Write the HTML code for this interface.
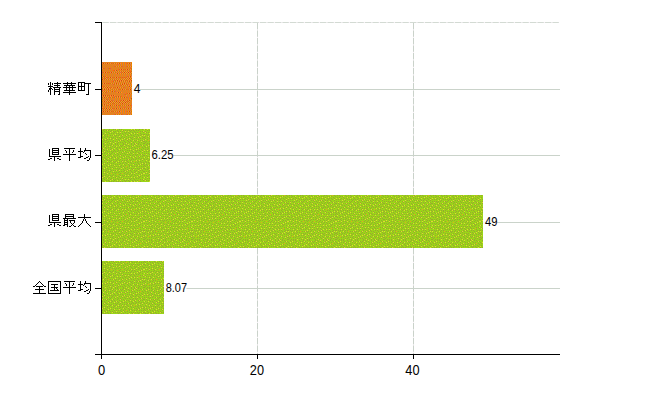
<!DOCTYPE html>
<html><head><meta charset="utf-8"><title>chart</title>
<style>html,body{margin:0;padding:0;background:#fff;width:650px;height:400px;overflow:hidden;font-family:"Liberation Sans",sans-serif}</style>
</head><body>
<svg width="650" height="400" viewBox="0 0 650 400" style="display:block;position:absolute;left:0;top:0">
<rect width="650" height="400" fill="#fff"/>
<g shape-rendering="crispEdges" stroke="#cad2ca" stroke-width="1" fill="none">
<path d="M103 22.5H559M257.5 23V354M413.5 23V354" stroke="#f7f0f7"/>
<path d="M102.5 22.5H560" stroke="#d3dad3" stroke-dasharray="6.3 1.2" shape-rendering="auto"/>
<path d="M257.5 23V354" stroke-dasharray="6.3 1.2" shape-rendering="auto"/>
<path d="M413.5 23V354" stroke-dasharray="6.3 1.2" shape-rendering="auto"/>
<path d="M102 89.5H560" stroke="#cad3ca"/>
<path d="M102 155.5H560" stroke="#cad3ca"/>
<path d="M102 222.5H560" stroke="#cad3ca"/>
<path d="M102 288.5H560" stroke="#cad3ca"/>
</g>
<defs><pattern id="pg" patternUnits="userSpaceOnUse" width="48" height="48"><rect width="48" height="48" fill="#9bd616"/><path fill="#99a532" d="M0 2h1v1h-1zM0 7h1v1h-1zM0 9h1v1h-1zM0 11h1v1h-1zM0 15h1v1h-1zM0 19h1v1h-1zM0 21h1v1h-1zM0 24h1v1h-1zM0 27h1v1h-1zM0 31h1v1h-1zM0 38h1v1h-1zM0 41h1v1h-1zM0 43h1v1h-1zM0 45h1v1h-1zM0 47h1v1h-1zM1 3h1v1h-1zM1 5h1v1h-1zM1 13h1v1h-1zM1 17h1v1h-1zM1 22h1v1h-1zM1 25h1v1h-1zM1 29h1v1h-1zM1 33h1v1h-1zM1 35h1v1h-1zM1 40h1v1h-1zM1 42h1v1h-1zM1 46h1v1h-1zM2 0h1v1h-1zM2 7h1v1h-1zM2 9h1v1h-1zM2 11h1v1h-1zM2 15h1v1h-1zM2 18h1v1h-1zM2 20h1v1h-1zM2 27h1v1h-1zM2 31h1v1h-1zM2 36h1v1h-1zM2 38h1v1h-1zM2 45h1v1h-1zM3 1h1v1h-1zM3 3h1v1h-1zM3 5h1v1h-1zM3 12h1v1h-1zM3 14h1v1h-1zM3 21h1v1h-1zM3 23h1v1h-1zM3 25h1v1h-1zM3 29h1v1h-1zM3 32h1v1h-1zM3 34h1v1h-1zM3 39h1v1h-1zM3 41h1v1h-1zM3 43h1v1h-1zM3 47h1v1h-1zM4 4h1v1h-1zM4 7h1v1h-1zM4 9h1v1h-1zM4 16h1v1h-1zM4 18h1v1h-1zM4 24h1v1h-1zM4 27h1v1h-1zM4 31h1v1h-1zM4 36h1v1h-1zM4 38h1v1h-1zM5 0h1v1h-1zM5 2h1v1h-1zM5 6h1v1h-1zM5 10h1v1h-1zM5 12h1v1h-1zM5 15h1v1h-1zM5 19h1v1h-1zM5 21h1v1h-1zM5 26h1v1h-1zM5 28h1v1h-1zM5 30h1v1h-1zM5 34h1v1h-1zM5 40h1v1h-1zM5 42h1v1h-1zM5 45h1v1h-1zM5 47h1v1h-1zM6 4h1v1h-1zM6 9h1v1h-1zM6 13h1v1h-1zM6 17h1v1h-1zM6 22h1v1h-1zM6 24h1v1h-1zM6 32h1v1h-1zM6 36h1v1h-1zM6 38h1v1h-1zM6 41h1v1h-1zM7 0h1v1h-1zM7 2h1v1h-1zM7 5h1v1h-1zM7 7h1v1h-1zM7 11h1v1h-1zM7 15h1v1h-1zM7 18h1v1h-1zM7 20h1v1h-1zM7 25h1v1h-1zM7 27h1v1h-1zM7 29h1v1h-1zM7 31h1v1h-1zM7 34h1v1h-1zM7 37h1v1h-1zM7 43h1v1h-1zM7 45h1v1h-1zM7 47h1v1h-1zM8 1h1v1h-1zM8 6h1v1h-1zM8 9h1v1h-1zM8 13h1v1h-1zM8 16h1v1h-1zM8 22h1v1h-1zM8 33h1v1h-1zM8 35h1v1h-1zM8 39h1v1h-1zM8 41h1v1h-1zM8 44h1v1h-1zM9 3h1v1h-1zM9 8h1v1h-1zM9 11h1v1h-1zM9 14h1v1h-1zM9 18h1v1h-1zM9 20h1v1h-1zM9 23h1v1h-1zM9 25h1v1h-1zM9 27h1v1h-1zM9 29h1v1h-1zM9 31h1v1h-1zM9 38h1v1h-1zM9 40h1v1h-1zM9 46h1v1h-1zM10 2h1v1h-1zM10 4h1v1h-1zM10 6h1v1h-1zM10 12h1v1h-1zM10 15h1v1h-1zM10 21h1v1h-1zM10 26h1v1h-1zM10 30h1v1h-1zM10 34h1v1h-1zM10 36h1v1h-1zM10 42h1v1h-1zM10 44h1v1h-1zM11 0h1v1h-1zM11 7h1v1h-1zM11 9h1v1h-1zM11 11h1v1h-1zM11 16h1v1h-1zM11 18h1v1h-1zM11 19h1v1h-1zM11 22h1v1h-1zM11 24h1v1h-1zM11 28h1v1h-1zM11 32h1v1h-1zM11 38h1v1h-1zM11 40h1v1h-1zM11 43h1v1h-1zM11 46h1v1h-1zM12 1h1v1h-1zM12 3h1v1h-1zM12 5h1v1h-1zM12 13h1v1h-1zM12 25h1v1h-1zM12 27h1v1h-1zM12 31h1v1h-1zM12 34h1v1h-1zM12 36h1v1h-1zM12 45h1v1h-1zM13 7h1v1h-1zM13 9h1v1h-1zM13 11h1v1h-1zM13 14h1v1h-1zM13 16h1v1h-1zM13 18h1v1h-1zM13 20h1v1h-1zM13 22h1v1h-1zM13 29h1v1h-1zM13 33h1v1h-1zM13 37h1v1h-1zM13 41h1v1h-1zM13 43h1v1h-1zM13 47h1v1h-1zM14 1h1v1h-1zM14 3h1v1h-1zM14 5h1v1h-1zM14 10h1v1h-1zM14 17h1v1h-1zM14 23h1v1h-1zM14 25h1v1h-1zM14 27h1v1h-1zM14 31h1v1h-1zM14 35h1v1h-1zM14 39h1v1h-1zM14 45h1v1h-1zM15 0h1v1h-1zM15 4h1v1h-1zM15 7h1v1h-1zM15 9h1v1h-1zM15 12h1v1h-1zM15 14h1v1h-1zM15 16h1v1h-1zM15 19h1v1h-1zM15 21h1v1h-1zM15 26h1v1h-1zM15 32h1v1h-1zM15 34h1v1h-1zM15 37h1v1h-1zM15 41h1v1h-1zM15 43h1v1h-1zM15 47h1v1h-1zM16 2h1v1h-1zM16 8h1v1h-1zM16 13h1v1h-1zM16 23h1v1h-1zM16 28h1v1h-1zM16 31h1v1h-1zM16 39h1v1h-1zM16 42h1v1h-1zM16 45h1v1h-1zM17 1h1v1h-1zM17 5h1v1h-1zM17 7h1v1h-1zM17 11h1v1h-1zM17 15h1v1h-1zM17 17h1v1h-1zM17 19h1v1h-1zM17 21h1v1h-1zM17 24h1v1h-1zM17 26h1v1h-1zM17 30h1v1h-1zM17 33h1v1h-1zM17 35h1v1h-1zM17 37h1v1h-1zM17 41h1v1h-1zM17 44h1v1h-1zM17 46h1v1h-1zM18 3h1v1h-1zM18 6h1v1h-1zM18 9h1v1h-1zM18 12h1v1h-1zM18 18h1v1h-1zM18 22h1v1h-1zM18 28h1v1h-1zM18 36h1v1h-1zM18 39h1v1h-1zM19 0h1v1h-1zM19 2h1v1h-1zM19 7h1v1h-1zM19 10h1v1h-1zM19 13h1v1h-1zM19 15h1v1h-1zM19 17h1v1h-1zM19 20h1v1h-1zM19 24h1v1h-1zM19 26h1v1h-1zM19 29h1v1h-1zM19 31h1v1h-1zM19 33h1v1h-1zM19 35h1v1h-1zM19 40h1v1h-1zM19 42h1v1h-1zM19 45h1v1h-1zM19 47h1v1h-1zM20 4h1v1h-1zM20 16h1v1h-1zM20 22h1v1h-1zM20 28h1v1h-1zM20 32h1v1h-1zM20 37h1v1h-1zM20 39h1v1h-1zM20 43h1v1h-1zM21 0h1v1h-1zM21 3h1v1h-1zM21 5h1v1h-1zM21 7h1v1h-1zM21 9h1v1h-1zM21 11h1v1h-1zM21 13h1v1h-1zM21 15h1v1h-1zM21 18h1v1h-1zM21 20h1v1h-1zM21 24h1v1h-1zM21 26h1v1h-1zM21 34h1v1h-1zM21 41h1v1h-1zM21 45h1v1h-1zM21 47h1v1h-1zM22 1h1v1h-1zM22 6h1v1h-1zM22 10h1v1h-1zM22 14h1v1h-1zM22 22h1v1h-1zM22 25h1v1h-1zM22 28h1v1h-1zM22 32h1v1h-1zM22 35h1v1h-1zM22 37h1v1h-1zM22 39h1v1h-1zM22 43h1v1h-1zM22 46h1v1h-1zM23 3h1v1h-1zM23 8h1v1h-1zM23 12h1v1h-1zM23 16h1v1h-1zM23 18h1v1h-1zM23 20h1v1h-1zM23 24h1v1h-1zM23 27h1v1h-1zM23 30h1v1h-1zM23 33h1v1h-1zM23 38h1v1h-1zM23 41h1v1h-1zM23 44h1v1h-1zM24 1h1v1h-1zM24 4h1v1h-1zM24 6h1v1h-1zM24 10h1v1h-1zM24 15h1v1h-1zM24 19h1v1h-1zM24 22h1v1h-1zM24 29h1v1h-1zM24 31h1v1h-1zM24 35h1v1h-1zM24 37h1v1h-1zM24 42h1v1h-1zM24 46h1v1h-1zM25 2h1v1h-1zM25 8h1v1h-1zM25 11h1v1h-1zM25 13h1v1h-1zM25 17h1v1h-1zM25 21h1v1h-1zM25 23h1v1h-1zM25 25h1v1h-1zM25 27h1v1h-1zM25 33h1v1h-1zM25 39h1v1h-1zM25 41h1v1h-1zM25 44h1v1h-1zM26 1h1v1h-1zM26 4h1v1h-1zM26 6h1v1h-1zM26 9h1v1h-1zM26 14h1v1h-1zM26 16h1v1h-1zM26 19h1v1h-1zM26 31h1v1h-1zM26 35h1v1h-1zM26 37h1v1h-1zM26 40h1v1h-1zM26 46h1v1h-1zM27 0h1v1h-1zM27 7h1v1h-1zM27 11h1v1h-1zM27 18h1v1h-1zM27 22h1v1h-1zM27 25h1v1h-1zM27 27h1v1h-1zM27 32h1v1h-1zM27 34h1v1h-1zM27 38h1v1h-1zM27 42h1v1h-1zM27 44h1v1h-1zM27 47h1v1h-1zM28 2h1v1h-1zM28 4h1v1h-1zM28 9h1v1h-1zM28 12h1v1h-1zM28 14h1v1h-1zM28 16h1v1h-1zM28 20h1v1h-1zM28 23h1v1h-1zM28 26h1v1h-1zM28 29h1v1h-1zM28 31h1v1h-1zM28 36h1v1h-1zM28 41h1v1h-1zM28 45h1v1h-1zM29 0h1v1h-1zM29 5h1v1h-1zM29 7h1v1h-1zM29 10h1v1h-1zM29 18h1v1h-1zM29 21h1v1h-1zM29 24h1v1h-1zM29 28h1v1h-1zM29 34h1v1h-1zM29 37h1v1h-1zM29 39h1v1h-1zM29 43h1v1h-1zM29 46h1v1h-1zM30 1h1v1h-1zM30 3h1v1h-1zM30 8h1v1h-1zM30 12h1v1h-1zM30 14h1v1h-1zM30 16h1v1h-1zM30 19h1v1h-1zM30 27h1v1h-1zM30 30h1v1h-1zM30 32h1v1h-1zM30 36h1v1h-1zM30 40h1v1h-1zM30 42h1v1h-1zM31 4h1v1h-1zM31 6h1v1h-1zM31 10h1v1h-1zM31 15h1v1h-1zM31 17h1v1h-1zM31 23h1v1h-1zM31 25h1v1h-1zM31 29h1v1h-1zM31 34h1v1h-1zM31 38h1v1h-1zM31 44h1v1h-1zM31 47h1v1h-1zM32 1h1v1h-1zM32 8h1v1h-1zM32 12h1v1h-1zM32 18h1v1h-1zM32 20h1v1h-1zM32 26h1v1h-1zM32 28h1v1h-1zM32 32h1v1h-1zM32 36h1v1h-1zM32 39h1v1h-1zM32 41h1v1h-1zM32 43h1v1h-1zM32 45h1v1h-1zM33 2h1v1h-1zM33 4h1v1h-1zM33 6h1v1h-1zM33 10h1v1h-1zM33 13h1v1h-1zM33 15h1v1h-1zM33 21h1v1h-1zM33 22h1v1h-1zM33 24h1v1h-1zM33 30h1v1h-1zM33 34h1v1h-1zM33 37h1v1h-1zM33 46h1v1h-1zM34 8h1v1h-1zM34 11h1v1h-1zM34 16h1v1h-1zM34 18h1v1h-1zM34 26h1v1h-1zM34 29h1v1h-1zM34 32h1v1h-1zM34 35h1v1h-1zM34 38h1v1h-1zM34 41h1v1h-1zM34 44h1v1h-1zM35 0h1v1h-1zM35 2h1v1h-1zM35 4h1v1h-1zM35 6h1v1h-1zM35 9h1v1h-1zM35 13h1v1h-1zM35 15h1v1h-1zM35 19h1v1h-1zM35 21h1v1h-1zM35 24h1v1h-1zM35 27h1v1h-1zM35 31h1v1h-1zM35 34h1v1h-1zM35 39h1v1h-1zM35 42h1v1h-1zM35 45h1v1h-1zM35 47h1v1h-1zM36 3h1v1h-1zM36 7h1v1h-1zM36 11h1v1h-1zM36 14h1v1h-1zM36 17h1v1h-1zM36 22h1v1h-1zM36 25h1v1h-1zM36 28h1v1h-1zM36 30h1v1h-1zM36 36h1v1h-1zM36 41h1v1h-1zM36 43h1v1h-1zM37 1h1v1h-1zM37 5h1v1h-1zM37 8h1v1h-1zM37 10h1v1h-1zM37 15h1v1h-1zM37 19h1v1h-1zM37 24h1v1h-1zM37 32h1v1h-1zM37 34h1v1h-1zM37 37h1v1h-1zM37 39h1v1h-1zM37 46h1v1h-1zM38 0h1v1h-1zM38 3h1v1h-1zM38 12h1v1h-1zM38 20h1v1h-1zM38 22h1v1h-1zM38 26h1v1h-1zM38 28h1v1h-1zM38 30h1v1h-1zM38 35h1v1h-1zM38 40h1v1h-1zM38 42h1v1h-1zM38 44h1v1h-1zM38 47h1v1h-1zM39 4h1v1h-1zM39 6h1v1h-1zM39 8h1v1h-1zM39 10h1v1h-1zM39 13h1v1h-1zM39 15h1v1h-1zM39 18h1v1h-1zM39 24h1v1h-1zM39 27h1v1h-1zM39 31h1v1h-1zM39 33h1v1h-1zM39 36h1v1h-1zM39 38h1v1h-1zM39 45h1v1h-1zM40 1h1v1h-1zM40 7h1v1h-1zM40 11h1v1h-1zM40 14h1v1h-1zM40 20h1v1h-1zM40 22h1v1h-1zM40 26h1v1h-1zM40 29h1v1h-1zM40 34h1v1h-1zM40 40h1v1h-1zM40 42h1v1h-1zM40 44h1v1h-1zM40 47h1v1h-1zM41 2h1v1h-1zM41 4h1v1h-1zM41 6h1v1h-1zM41 10h1v1h-1zM41 16h1v1h-1zM41 18h1v1h-1zM41 21h1v1h-1zM41 24h1v1h-1zM41 31h1v1h-1zM41 36h1v1h-1zM41 38h1v1h-1zM41 41h1v1h-1zM42 0h1v1h-1zM42 8h1v1h-1zM42 12h1v1h-1zM42 14h1v1h-1zM42 17h1v1h-1zM42 19h1v1h-1zM42 25h1v1h-1zM42 27h1v1h-1zM42 29h1v1h-1zM42 32h1v1h-1zM42 34h1v1h-1zM42 39h1v1h-1zM42 43h1v1h-1zM42 45h1v1h-1zM42 47h1v1h-1zM43 2h1v1h-1zM43 4h1v1h-1zM43 6h1v1h-1zM43 9h1v1h-1zM43 13h1v1h-1zM43 20h1v1h-1zM43 22h1v1h-1zM43 24h1v1h-1zM43 28h1v1h-1zM43 33h1v1h-1zM43 41h1v1h-1zM43 46h1v1h-1zM44 0h1v1h-1zM44 7h1v1h-1zM44 10h1v1h-1zM44 12h1v1h-1zM44 15h1v1h-1zM44 17h1v1h-1zM44 26h1v1h-1zM44 30h1v1h-1zM44 32h1v1h-1zM44 35h1v1h-1zM44 37h1v1h-1zM44 39h1v1h-1zM44 42h1v1h-1zM44 44h1v1h-1zM45 1h1v1h-1zM45 5h1v1h-1zM45 14h1v1h-1zM45 18h1v1h-1zM45 20h1v1h-1zM45 22h1v1h-1zM45 24h1v1h-1zM45 28h1v1h-1zM45 38h1v1h-1zM45 46h1v1h-1zM46 3h1v1h-1zM46 6h1v1h-1zM46 8h1v1h-1zM46 10h1v1h-1zM46 12h1v1h-1zM46 16h1v1h-1zM46 26h1v1h-1zM46 29h1v1h-1zM46 31h1v1h-1zM46 33h1v1h-1zM46 35h1v1h-1zM46 40h1v1h-1zM46 42h1v1h-1zM46 44h1v1h-1zM47 1h1v1h-1zM47 4h1v1h-1zM47 11h1v1h-1zM47 14h1v1h-1zM47 18h1v1h-1zM47 20h1v1h-1zM47 22h1v1h-1zM47 24h1v1h-1zM47 27h1v1h-1zM47 36h1v1h-1zM47 38h1v1h-1zM47 41h1v1h-1zM47 45h1v1h-1zM47 47h1v1h-1z"/><path fill="#dddd33" d="M0 6h1v1h-1zM0 13h1v1h-1zM0 29h1v1h-1zM0 33h1v1h-1zM0 39h1v1h-1zM1 19h1v1h-1zM1 23h1v1h-1zM1 36h1v1h-1zM1 43h1v1h-1zM2 2h1v1h-1zM2 10h1v1h-1zM2 16h1v1h-1zM2 28h1v1h-1zM3 6h1v1h-1zM3 33h1v1h-1zM4 1h1v1h-1zM4 13h1v1h-1zM4 21h1v1h-1zM4 40h1v1h-1zM5 17h1v1h-1zM5 25h1v1h-1zM5 29h1v1h-1zM5 37h1v1h-1zM6 8h1v1h-1zM6 11h1v1h-1zM6 20h1v1h-1zM6 33h1v1h-1zM6 43h1v1h-1zM7 4h1v1h-1zM7 39h1v1h-1zM8 7h1v1h-1zM8 15h1v1h-1zM8 19h1v1h-1zM8 24h1v1h-1zM8 28h1v1h-1zM8 32h1v1h-1zM9 2h1v1h-1zM9 37h1v1h-1zM9 43h1v1h-1zM9 47h1v1h-1zM10 11h1v1h-1zM10 23h1v1h-1zM11 5h1v1h-1zM11 17h1v1h-1zM11 29h1v1h-1zM11 34h1v1h-1zM11 42h1v1h-1zM12 9h1v1h-1zM12 14h1v1h-1zM12 21h1v1h-1zM13 2h1v1h-1zM13 26h1v1h-1zM13 32h1v1h-1zM14 6h1v1h-1zM14 13h1v1h-1zM14 20h1v1h-1zM14 36h1v1h-1zM14 42h1v1h-1zM14 46h1v1h-1zM16 1h1v1h-1zM16 5h1v1h-1zM16 11h1v1h-1zM16 17h1v1h-1zM16 24h1v1h-1zM16 35h1v1h-1zM17 27h1v1h-1zM17 32h1v1h-1zM17 39h1v1h-1zM17 43h1v1h-1zM17 47h1v1h-1zM18 4h1v1h-1zM18 14h1v1h-1zM18 21h1v1h-1zM19 9h1v1h-1zM19 38h1v1h-1zM19 46h1v1h-1zM20 2h1v1h-1zM20 13h1v1h-1zM20 18h1v1h-1zM20 23h1v1h-1zM20 26h1v1h-1zM20 33h1v1h-1zM20 42h1v1h-1zM21 8h1v1h-1zM21 36h1v1h-1zM22 17h1v1h-1zM22 45h1v1h-1zM23 1h1v1h-1zM23 5h1v1h-1zM23 21h1v1h-1zM23 26h1v1h-1zM23 40h1v1h-1zM24 11h1v1h-1zM24 14h1v1h-1zM24 32h1v1h-1zM24 36h1v1h-1zM24 44h1v1h-1zM25 4h1v1h-1zM25 24h1v1h-1zM26 8h1v1h-1zM26 17h1v1h-1zM26 34h1v1h-1zM26 39h1v1h-1zM26 43h1v1h-1zM27 13h1v1h-1zM27 20h1v1h-1zM27 23h1v1h-1zM28 1h1v1h-1zM28 7h1v1h-1zM28 42h1v1h-1zM29 4h1v1h-1zM29 12h1v1h-1zM29 17h1v1h-1zM29 27h1v1h-1zM29 31h1v1h-1zM29 35h1v1h-1zM30 39h1v1h-1zM30 47h1v1h-1zM31 3h1v1h-1zM31 9h1v1h-1zM31 26h1v1h-1zM31 43h1v1h-1zM32 0h1v1h-1zM32 15h1v1h-1zM32 19h1v1h-1zM32 31h1v1h-1zM32 35h1v1h-1zM33 8h1v1h-1zM33 25h1v1h-1zM33 38h1v1h-1zM33 42h1v1h-1zM34 5h1v1h-1zM34 12h1v1h-1zM34 22h1v1h-1zM35 17h1v1h-1zM35 29h1v1h-1zM35 33h1v1h-1zM35 37h1v1h-1zM35 46h1v1h-1zM36 2h1v1h-1zM37 6h1v1h-1zM37 9h1v1h-1zM37 13h1v1h-1zM37 20h1v1h-1zM37 25h1v1h-1zM37 44h1v1h-1zM38 1h1v1h-1zM38 29h1v1h-1zM38 33h1v1h-1zM38 37h1v1h-1zM38 41h1v1h-1zM39 12h1v1h-1zM39 23h1v1h-1zM39 47h1v1h-1zM40 0h1v1h-1zM40 5h1v1h-1zM40 16h1v1h-1zM40 28h1v1h-1zM41 9h1v1h-1zM41 32h1v1h-1zM41 37h1v1h-1zM41 44h1v1h-1zM42 4h1v1h-1zM42 21h1v1h-1zM42 26h1v1h-1zM42 41h1v1h-1zM43 12h1v1h-1zM43 16h1v1h-1zM43 31h1v1h-1zM44 20h1v1h-1zM44 25h1v1h-1zM44 40h1v1h-1zM45 10h1v1h-1zM45 30h1v1h-1zM45 45h1v1h-1zM46 1h1v1h-1zM46 7h1v1h-1zM46 15h1v1h-1zM46 19h1v1h-1zM46 24h1v1h-1zM46 39h1v1h-1zM47 29h1v1h-1zM47 35h1v1h-1zM47 44h1v1h-1z"/><path fill="#e89c28" d="M4 44h1v1h-1zM12 39h1v1h-1zM15 29h1v1h-1zM21 30h1v1h-1zM26 29h1v1h-1zM30 22h1v1h-1zM38 17h1v1h-1zM43 36h1v1h-1zM44 3h1v1h-1z"/></pattern><pattern id="po" patternUnits="userSpaceOnUse" width="48" height="48"><rect width="48" height="48" fill="#c88240"/><path fill="#ff8040" d="M0 0h1v1h-1zM0 7h1v1h-1zM0 13h1v1h-1zM0 15h1v1h-1zM0 17h1v1h-1zM0 21h1v1h-1zM0 24h1v1h-1zM0 28h1v1h-1zM0 39h1v1h-1zM0 47h1v1h-1zM1 6h1v1h-1zM1 8h1v1h-1zM1 10h1v1h-1zM1 12h1v1h-1zM1 16h1v1h-1zM1 18h1v1h-1zM1 29h1v1h-1zM1 38h1v1h-1zM1 40h1v1h-1zM1 41h1v1h-1zM2 0h1v1h-1zM2 11h1v1h-1zM2 13h1v1h-1zM2 15h1v1h-1zM2 21h1v1h-1zM2 24h1v1h-1zM2 42h1v1h-1zM2 44h1v1h-1zM3 1h1v1h-1zM3 5h1v1h-1zM3 9h1v1h-1zM3 12h1v1h-1zM3 29h1v1h-1zM3 35h1v1h-1zM3 40h1v1h-1zM3 41h1v1h-1zM4 13h1v1h-1zM4 21h1v1h-1zM4 24h1v1h-1zM4 28h1v1h-1zM4 39h1v1h-1zM4 42h1v1h-1zM4 44h1v1h-1zM5 1h1v1h-1zM5 5h1v1h-1zM5 9h1v1h-1zM5 12h1v1h-1zM5 29h1v1h-1zM5 31h1v1h-1zM5 35h1v1h-1zM5 40h1v1h-1zM5 41h1v1h-1zM5 43h1v1h-1zM6 0h1v1h-1zM6 11h1v1h-1zM6 13h1v1h-1zM6 15h1v1h-1zM6 20h1v1h-1zM6 28h1v1h-1zM6 39h1v1h-1zM6 44h1v1h-1zM6 47h1v1h-1zM7 1h1v1h-1zM7 3h1v1h-1zM7 5h1v1h-1zM7 8h1v1h-1zM7 9h1v1h-1zM7 29h1v1h-1zM7 31h1v1h-1zM7 35h1v1h-1zM7 40h1v1h-1zM7 41h1v1h-1zM7 43h1v1h-1zM8 0h1v1h-1zM8 13h1v1h-1zM8 15h1v1h-1zM8 24h1v1h-1zM8 39h1v1h-1zM8 44h1v1h-1zM8 47h1v1h-1zM9 1h1v1h-1zM9 3h1v1h-1zM9 5h1v1h-1zM9 8h1v1h-1zM9 9h1v1h-1zM9 12h1v1h-1zM9 29h1v1h-1zM9 31h1v1h-1zM9 35h1v1h-1zM9 38h1v1h-1zM9 40h1v1h-1zM9 41h1v1h-1zM9 43h1v1h-1zM10 0h1v1h-1zM10 4h1v1h-1zM10 13h1v1h-1zM10 15h1v1h-1zM10 24h1v1h-1zM10 28h1v1h-1zM10 30h1v1h-1zM10 39h1v1h-1zM10 47h1v1h-1zM11 1h1v1h-1zM11 5h1v1h-1zM11 8h1v1h-1zM11 12h1v1h-1zM11 31h1v1h-1zM11 38h1v1h-1zM11 40h1v1h-1zM11 41h1v1h-1zM11 43h1v1h-1zM12 0h1v1h-1zM12 4h1v1h-1zM12 13h1v1h-1zM12 15h1v1h-1zM12 39h1v1h-1zM13 5h1v1h-1zM13 7h1v1h-1zM13 9h1v1h-1zM13 12h1v1h-1zM13 29h1v1h-1zM13 31h1v1h-1zM13 38h1v1h-1zM13 40h1v1h-1zM13 41h1v1h-1zM13 43h1v1h-1zM14 0h1v1h-1zM14 4h1v1h-1zM14 6h1v1h-1zM14 13h1v1h-1zM14 15h1v1h-1zM14 24h1v1h-1zM14 47h1v1h-1zM15 1h1v1h-1zM15 5h1v1h-1zM15 7h1v1h-1zM15 9h1v1h-1zM15 12h1v1h-1zM15 29h1v1h-1zM15 31h1v1h-1zM15 35h1v1h-1zM15 40h1v1h-1zM15 42h1v1h-1zM16 6h1v1h-1zM16 13h1v1h-1zM16 24h1v1h-1zM16 39h1v1h-1zM16 47h1v1h-1zM17 5h1v1h-1zM17 9h1v1h-1zM17 31h1v1h-1zM17 35h1v1h-1zM17 41h1v1h-1zM17 43h1v1h-1zM18 6h1v1h-1zM18 15h1v1h-1zM18 24h1v1h-1zM18 33h1v1h-1zM18 47h1v1h-1zM19 1h1v1h-1zM19 5h1v1h-1zM19 7h1v1h-1zM19 9h1v1h-1zM19 12h1v1h-1zM19 22h1v1h-1zM19 29h1v1h-1zM19 31h1v1h-1zM19 35h1v1h-1zM19 36h1v1h-1zM19 41h1v1h-1zM20 6h1v1h-1zM20 15h1v1h-1zM20 18h1v1h-1zM20 23h1v1h-1zM20 25h1v1h-1zM20 32h1v1h-1zM20 33h1v1h-1zM20 39h1v1h-1zM21 0h1v1h-1zM21 1h1v1h-1zM21 5h1v1h-1zM21 7h1v1h-1zM21 9h1v1h-1zM21 12h1v1h-1zM21 29h1v1h-1zM21 31h1v1h-1zM21 35h1v1h-1zM21 36h1v1h-1zM21 41h1v1h-1zM21 44h1v1h-1zM22 6h1v1h-1zM22 15h1v1h-1zM22 18h1v1h-1zM22 23h1v1h-1zM22 25h1v1h-1zM22 32h1v1h-1zM22 33h1v1h-1zM22 39h1v1h-1zM23 0h1v1h-1zM23 1h1v1h-1zM23 5h1v1h-1zM23 7h1v1h-1zM23 12h1v1h-1zM23 31h1v1h-1zM23 35h1v1h-1zM23 36h1v1h-1zM23 44h1v1h-1zM24 6h1v1h-1zM24 15h1v1h-1zM24 18h1v1h-1zM24 21h1v1h-1zM24 23h1v1h-1zM24 25h1v1h-1zM24 32h1v1h-1zM24 33h1v1h-1zM24 39h1v1h-1zM25 1h1v1h-1zM25 5h1v1h-1zM25 7h1v1h-1zM25 9h1v1h-1zM25 12h1v1h-1zM25 31h1v1h-1zM25 35h1v1h-1zM25 36h1v1h-1zM25 41h1v1h-1zM25 44h1v1h-1zM26 4h1v1h-1zM26 6h1v1h-1zM26 21h1v1h-1zM26 23h1v1h-1zM26 25h1v1h-1zM26 32h1v1h-1zM26 33h1v1h-1zM26 37h1v1h-1zM26 39h1v1h-1zM27 1h1v1h-1zM27 5h1v1h-1zM27 7h1v1h-1zM27 9h1v1h-1zM27 12h1v1h-1zM27 24h1v1h-1zM27 31h1v1h-1zM27 35h1v1h-1zM27 36h1v1h-1zM27 41h1v1h-1zM28 4h1v1h-1zM28 6h1v1h-1zM28 23h1v1h-1zM28 25h1v1h-1zM28 30h1v1h-1zM28 32h1v1h-1zM28 33h1v1h-1zM28 37h1v1h-1zM29 1h1v1h-1zM29 5h1v1h-1zM29 7h1v1h-1zM29 9h1v1h-1zM29 12h1v1h-1zM29 24h1v1h-1zM29 31h1v1h-1zM29 35h1v1h-1zM29 36h1v1h-1zM29 41h1v1h-1zM30 4h1v1h-1zM30 6h1v1h-1zM30 21h1v1h-1zM30 23h1v1h-1zM30 25h1v1h-1zM30 30h1v1h-1zM30 33h1v1h-1zM30 37h1v1h-1zM30 47h1v1h-1zM31 7h1v1h-1zM31 9h1v1h-1zM31 12h1v1h-1zM31 24h1v1h-1zM31 29h1v1h-1zM31 31h1v1h-1zM31 35h1v1h-1zM32 4h1v1h-1zM32 6h1v1h-1zM32 15h1v1h-1zM32 18h1v1h-1zM32 21h1v1h-1zM32 23h1v1h-1zM32 25h1v1h-1zM32 30h1v1h-1zM32 32h1v1h-1zM32 33h1v1h-1zM32 37h1v1h-1zM32 45h1v1h-1zM33 5h1v1h-1zM33 7h1v1h-1zM33 9h1v1h-1zM33 12h1v1h-1zM33 24h1v1h-1zM33 28h1v1h-1zM33 29h1v1h-1zM33 31h1v1h-1zM33 35h1v1h-1zM33 39h1v1h-1zM33 41h1v1h-1zM34 3h1v1h-1zM34 15h1v1h-1zM34 18h1v1h-1zM34 21h1v1h-1zM34 25h1v1h-1zM34 30h1v1h-1zM34 32h1v1h-1zM34 33h1v1h-1zM34 38h1v1h-1zM34 45h1v1h-1zM35 12h1v1h-1zM35 24h1v1h-1zM35 28h1v1h-1zM35 29h1v1h-1zM35 31h1v1h-1zM35 35h1v1h-1zM35 39h1v1h-1zM35 41h1v1h-1zM36 2h1v1h-1zM36 3h1v1h-1zM36 18h1v1h-1zM36 20h1v1h-1zM36 21h1v1h-1zM36 23h1v1h-1zM36 25h1v1h-1zM36 30h1v1h-1zM36 32h1v1h-1zM36 33h1v1h-1zM36 45h1v1h-1zM37 24h1v1h-1zM37 31h1v1h-1zM37 35h1v1h-1zM37 40h1v1h-1zM37 41h1v1h-1zM38 1h1v1h-1zM38 20h1v1h-1zM38 21h1v1h-1zM38 23h1v1h-1zM38 25h1v1h-1zM38 32h1v1h-1zM38 45h1v1h-1zM39 0h1v1h-1zM39 12h1v1h-1zM39 24h1v1h-1zM39 27h1v1h-1zM39 31h1v1h-1zM39 35h1v1h-1zM39 41h1v1h-1zM40 1h1v1h-1zM40 3h1v1h-1zM40 8h1v1h-1zM40 18h1v1h-1zM40 20h1v1h-1zM40 21h1v1h-1zM40 23h1v1h-1zM40 25h1v1h-1zM40 30h1v1h-1zM41 0h1v1h-1zM41 12h1v1h-1zM41 24h1v1h-1zM41 27h1v1h-1zM41 35h1v1h-1zM42 1h1v1h-1zM42 3h1v1h-1zM42 7h1v1h-1zM42 8h1v1h-1zM42 18h1v1h-1zM42 20h1v1h-1zM42 21h1v1h-1zM42 23h1v1h-1zM42 25h1v1h-1zM42 45h1v1h-1zM43 0h1v1h-1zM43 11h1v1h-1zM43 24h1v1h-1zM43 35h1v1h-1zM43 41h1v1h-1zM44 1h1v1h-1zM44 7h1v1h-1zM44 10h1v1h-1zM44 20h1v1h-1zM44 23h1v1h-1zM44 25h1v1h-1zM44 42h1v1h-1zM44 45h1v1h-1zM45 0h1v1h-1zM45 6h1v1h-1zM45 11h1v1h-1zM45 19h1v1h-1zM45 24h1v1h-1zM45 35h1v1h-1zM45 41h1v1h-1zM46 3h1v1h-1zM46 7h1v1h-1zM46 8h1v1h-1zM46 10h1v1h-1zM46 13h1v1h-1zM46 20h1v1h-1zM46 21h1v1h-1zM46 23h1v1h-1zM46 25h1v1h-1zM46 33h1v1h-1zM46 42h1v1h-1zM46 45h1v1h-1zM47 6h1v1h-1zM47 11h1v1h-1zM47 19h1v1h-1zM47 24h1v1h-1zM47 31h1v1h-1zM47 41h1v1h-1z"/><path fill="#c88800" d="M0 5h1v1h-1zM0 6h1v1h-1zM0 8h1v1h-1zM0 10h1v1h-1zM0 12h1v1h-1zM0 16h1v1h-1zM0 29h1v1h-1zM0 35h1v1h-1zM0 38h1v1h-1zM0 40h1v1h-1zM0 41h1v1h-1zM1 0h1v1h-1zM1 7h1v1h-1zM1 11h1v1h-1zM1 15h1v1h-1zM1 17h1v1h-1zM1 21h1v1h-1zM1 28h1v1h-1zM1 39h1v1h-1zM1 42h1v1h-1zM1 44h1v1h-1zM1 47h1v1h-1zM2 1h1v1h-1zM2 5h1v1h-1zM2 12h1v1h-1zM2 29h1v1h-1zM2 35h1v1h-1zM2 40h1v1h-1zM2 41h1v1h-1zM3 0h1v1h-1zM3 11h1v1h-1zM3 13h1v1h-1zM3 15h1v1h-1zM3 24h1v1h-1zM3 28h1v1h-1zM3 39h1v1h-1zM3 44h1v1h-1zM4 1h1v1h-1zM4 5h1v1h-1zM4 9h1v1h-1zM4 12h1v1h-1zM4 29h1v1h-1zM4 31h1v1h-1zM4 40h1v1h-1zM4 41h1v1h-1zM5 0h1v1h-1zM5 11h1v1h-1zM5 13h1v1h-1zM5 15h1v1h-1zM5 20h1v1h-1zM5 24h1v1h-1zM5 42h1v1h-1zM5 44h1v1h-1zM6 1h1v1h-1zM6 3h1v1h-1zM6 5h1v1h-1zM6 8h1v1h-1zM6 9h1v1h-1zM6 12h1v1h-1zM6 29h1v1h-1zM6 35h1v1h-1zM6 40h1v1h-1zM6 41h1v1h-1zM6 43h1v1h-1zM7 0h1v1h-1zM7 13h1v1h-1zM7 20h1v1h-1zM7 24h1v1h-1zM7 28h1v1h-1zM7 39h1v1h-1zM7 44h1v1h-1zM8 3h1v1h-1zM8 9h1v1h-1zM8 12h1v1h-1zM8 29h1v1h-1zM8 31h1v1h-1zM8 38h1v1h-1zM8 40h1v1h-1zM8 43h1v1h-1zM9 0h1v1h-1zM9 13h1v1h-1zM9 15h1v1h-1zM9 28h1v1h-1zM9 30h1v1h-1zM9 39h1v1h-1zM9 44h1v1h-1zM10 1h1v1h-1zM10 3h1v1h-1zM10 5h1v1h-1zM10 8h1v1h-1zM10 9h1v1h-1zM10 29h1v1h-1zM10 31h1v1h-1zM10 35h1v1h-1zM10 38h1v1h-1zM10 40h1v1h-1zM10 41h1v1h-1zM10 43h1v1h-1zM11 0h1v1h-1zM11 4h1v1h-1zM11 13h1v1h-1zM11 24h1v1h-1zM11 47h1v1h-1zM12 1h1v1h-1zM12 5h1v1h-1zM12 7h1v1h-1zM12 9h1v1h-1zM12 12h1v1h-1zM12 29h1v1h-1zM12 31h1v1h-1zM12 35h1v1h-1zM12 38h1v1h-1zM12 40h1v1h-1zM12 43h1v1h-1zM13 0h1v1h-1zM13 4h1v1h-1zM13 6h1v1h-1zM13 15h1v1h-1zM13 20h1v1h-1zM13 24h1v1h-1zM13 39h1v1h-1zM13 47h1v1h-1zM14 1h1v1h-1zM14 7h1v1h-1zM14 12h1v1h-1zM14 31h1v1h-1zM14 35h1v1h-1zM14 40h1v1h-1zM14 42h1v1h-1zM15 4h1v1h-1zM15 6h1v1h-1zM15 13h1v1h-1zM15 15h1v1h-1zM15 39h1v1h-1zM16 1h1v1h-1zM16 5h1v1h-1zM16 7h1v1h-1zM16 9h1v1h-1zM16 12h1v1h-1zM16 29h1v1h-1zM16 31h1v1h-1zM16 35h1v1h-1zM16 41h1v1h-1zM17 6h1v1h-1zM17 15h1v1h-1zM17 24h1v1h-1zM17 33h1v1h-1zM17 39h1v1h-1zM18 1h1v1h-1zM18 5h1v1h-1zM18 7h1v1h-1zM18 9h1v1h-1zM18 12h1v1h-1zM18 22h1v1h-1zM18 29h1v1h-1zM18 31h1v1h-1zM18 35h1v1h-1zM18 36h1v1h-1zM18 41h1v1h-1zM18 43h1v1h-1zM19 6h1v1h-1zM19 15h1v1h-1zM19 18h1v1h-1zM19 24h1v1h-1zM19 32h1v1h-1zM19 33h1v1h-1zM19 39h1v1h-1zM20 0h1v1h-1zM20 1h1v1h-1zM20 7h1v1h-1zM20 31h1v1h-1zM20 36h1v1h-1zM20 41h1v1h-1zM21 6h1v1h-1zM21 15h1v1h-1zM21 18h1v1h-1zM21 23h1v1h-1zM21 33h1v1h-1zM22 1h1v1h-1zM22 5h1v1h-1zM22 7h1v1h-1zM22 9h1v1h-1zM22 12h1v1h-1zM22 29h1v1h-1zM22 31h1v1h-1zM22 35h1v1h-1zM22 36h1v1h-1zM22 41h1v1h-1zM23 18h1v1h-1zM23 21h1v1h-1zM23 23h1v1h-1zM23 25h1v1h-1zM23 32h1v1h-1zM23 39h1v1h-1zM24 0h1v1h-1zM24 1h1v1h-1zM24 5h1v1h-1zM24 7h1v1h-1zM24 9h1v1h-1zM24 29h1v1h-1zM24 31h1v1h-1zM24 35h1v1h-1zM24 36h1v1h-1zM24 41h1v1h-1zM24 44h1v1h-1zM25 4h1v1h-1zM25 6h1v1h-1zM25 18h1v1h-1zM25 23h1v1h-1zM25 25h1v1h-1zM25 33h1v1h-1zM25 37h1v1h-1zM25 39h1v1h-1zM26 1h1v1h-1zM26 5h1v1h-1zM26 9h1v1h-1zM26 12h1v1h-1zM26 24h1v1h-1zM26 29h1v1h-1zM26 31h1v1h-1zM26 35h1v1h-1zM27 6h1v1h-1zM27 21h1v1h-1zM27 23h1v1h-1zM27 25h1v1h-1zM27 32h1v1h-1zM27 33h1v1h-1zM27 37h1v1h-1zM27 39h1v1h-1zM28 5h1v1h-1zM28 7h1v1h-1zM28 9h1v1h-1zM28 12h1v1h-1zM28 29h1v1h-1zM28 31h1v1h-1zM28 36h1v1h-1zM28 41h1v1h-1zM29 4h1v1h-1zM29 21h1v1h-1zM29 23h1v1h-1zM29 25h1v1h-1zM29 30h1v1h-1zM29 32h1v1h-1zM29 33h1v1h-1zM29 37h1v1h-1zM29 46h1v1h-1zM30 1h1v1h-1zM30 5h1v1h-1zM30 7h1v1h-1zM30 9h1v1h-1zM30 12h1v1h-1zM30 24h1v1h-1zM30 29h1v1h-1zM30 31h1v1h-1zM30 35h1v1h-1zM30 36h1v1h-1zM30 41h1v1h-1zM31 4h1v1h-1zM31 6h1v1h-1zM31 15h1v1h-1zM31 18h1v1h-1zM31 23h1v1h-1zM31 25h1v1h-1zM31 30h1v1h-1zM31 32h1v1h-1zM31 33h1v1h-1zM31 37h1v1h-1zM31 45h1v1h-1zM32 5h1v1h-1zM32 7h1v1h-1zM32 28h1v1h-1zM32 29h1v1h-1zM32 31h1v1h-1zM32 35h1v1h-1zM32 41h1v1h-1zM33 6h1v1h-1zM33 18h1v1h-1zM33 21h1v1h-1zM33 23h1v1h-1zM33 25h1v1h-1zM33 32h1v1h-1zM34 9h1v1h-1zM34 12h1v1h-1zM34 24h1v1h-1zM34 29h1v1h-1zM34 31h1v1h-1zM34 35h1v1h-1zM34 39h1v1h-1zM35 3h1v1h-1zM35 15h1v1h-1zM35 18h1v1h-1zM35 20h1v1h-1zM35 21h1v1h-1zM35 23h1v1h-1zM35 25h1v1h-1zM35 30h1v1h-1zM35 33h1v1h-1zM35 38h1v1h-1zM35 45h1v1h-1zM36 12h1v1h-1zM36 24h1v1h-1zM36 28h1v1h-1zM36 31h1v1h-1zM36 35h1v1h-1zM36 41h1v1h-1zM37 1h1v1h-1zM37 3h1v1h-1zM37 18h1v1h-1zM37 21h1v1h-1zM37 25h1v1h-1zM37 30h1v1h-1zM37 32h1v1h-1zM37 33h1v1h-1zM38 0h1v1h-1zM38 12h1v1h-1zM38 24h1v1h-1zM38 27h1v1h-1zM38 31h1v1h-1zM38 35h1v1h-1zM38 40h1v1h-1zM38 41h1v1h-1zM39 1h1v1h-1zM39 3h1v1h-1zM39 8h1v1h-1zM39 18h1v1h-1zM39 20h1v1h-1zM39 21h1v1h-1zM39 23h1v1h-1zM39 25h1v1h-1zM39 30h1v1h-1zM39 32h1v1h-1zM39 45h1v1h-1zM40 0h1v1h-1zM40 31h1v1h-1zM40 35h1v1h-1zM40 40h1v1h-1zM41 3h1v1h-1zM41 7h1v1h-1zM41 8h1v1h-1zM41 20h1v1h-1zM41 23h1v1h-1zM41 25h1v1h-1zM41 45h1v1h-1zM42 0h1v1h-1zM42 11h1v1h-1zM42 24h1v1h-1zM42 27h1v1h-1zM42 41h1v1h-1zM43 1h1v1h-1zM43 3h1v1h-1zM43 7h1v1h-1zM43 8h1v1h-1zM43 10h1v1h-1zM43 18h1v1h-1zM43 20h1v1h-1zM43 21h1v1h-1zM43 23h1v1h-1zM43 25h1v1h-1zM44 0h1v1h-1zM44 6h1v1h-1zM44 11h1v1h-1zM44 35h1v1h-1zM44 41h1v1h-1zM45 3h1v1h-1zM45 7h1v1h-1zM45 8h1v1h-1zM45 10h1v1h-1zM45 13h1v1h-1zM45 18h1v1h-1zM45 20h1v1h-1zM45 21h1v1h-1zM45 23h1v1h-1zM45 25h1v1h-1zM45 33h1v1h-1zM45 40h1v1h-1zM45 42h1v1h-1zM46 0h1v1h-1zM46 11h1v1h-1zM46 19h1v1h-1zM46 24h1v1h-1zM46 35h1v1h-1zM46 41h1v1h-1zM47 3h1v1h-1zM47 7h1v1h-1zM47 18h1v1h-1zM47 20h1v1h-1zM47 23h1v1h-1zM47 25h1v1h-1zM47 30h1v1h-1zM47 40h1v1h-1zM47 42h1v1h-1zM47 45h1v1h-1z"/><path fill="#ff5030" d="M0 11h1v1h-1zM0 42h1v1h-1zM0 44h1v1h-1zM1 1h1v1h-1zM1 5h1v1h-1zM1 35h1v1h-1zM2 28h1v1h-1zM2 39h1v1h-1zM2 47h1v1h-1zM3 31h1v1h-1zM4 0h1v1h-1zM4 11h1v1h-1zM4 15h1v1h-1zM5 3h1v1h-1zM5 8h1v1h-1zM5 19h1v1h-1zM6 24h1v1h-1zM6 42h1v1h-1zM7 12h1v1h-1zM7 38h1v1h-1zM8 20h1v1h-1zM8 28h1v1h-1zM8 30h1v1h-1zM10 44h1v1h-1zM11 3h1v1h-1zM11 9h1v1h-1zM11 29h1v1h-1zM11 35h1v1h-1zM12 6h1v1h-1zM12 20h1v1h-1zM12 24h1v1h-1zM12 47h1v1h-1zM13 1h1v1h-1zM13 35h1v1h-1zM14 20h1v1h-1zM14 39h1v1h-1zM16 4h1v1h-1zM16 15h1v1h-1zM16 33h1v1h-1zM17 1h1v1h-1zM17 7h1v1h-1zM17 12h1v1h-1zM17 22h1v1h-1zM17 29h1v1h-1zM17 36h1v1h-1zM18 18h1v1h-1zM18 32h1v1h-1zM18 39h1v1h-1zM19 0h1v1h-1zM19 43h1v1h-1zM21 16h1v1h-1zM22 21h1v1h-1zM23 9h1v1h-1zM23 29h1v1h-1zM23 41h1v1h-1zM24 4h1v1h-1zM24 37h1v1h-1zM25 0h1v1h-1zM25 24h1v1h-1zM25 29h1v1h-1zM26 18h1v1h-1zM27 29h1v1h-1zM28 11h1v1h-1zM28 21h1v1h-1zM28 39h1v1h-1zM28 46h1v1h-1zM29 29h1v1h-1zM30 15h1v1h-1zM30 18h1v1h-1zM30 32h1v1h-1zM30 45h1v1h-1zM31 1h1v1h-1zM31 5h1v1h-1zM31 28h1v1h-1zM31 36h1v1h-1zM31 41h1v1h-1zM34 20h1v1h-1zM34 23h1v1h-1zM35 9h1v1h-1zM36 15h1v1h-1zM36 37h1v1h-1zM37 0h1v1h-1zM37 12h1v1h-1zM37 27h1v1h-1zM38 3h1v1h-1zM38 8h1v1h-1zM38 18h1v1h-1zM38 30h1v1h-1zM38 33h1v1h-1zM39 40h1v1h-1zM40 7h1v1h-1zM40 32h1v1h-1zM40 45h1v1h-1zM41 40h1v1h-1zM42 10h1v1h-1zM43 6h1v1h-1zM43 27h1v1h-1zM44 3h1v1h-1zM44 8h1v1h-1zM44 13h1v1h-1zM44 18h1v1h-1zM44 21h1v1h-1zM44 33h1v1h-1zM44 40h1v1h-1zM46 18h1v1h-1zM46 40h1v1h-1zM47 0h1v1h-1zM47 29h1v1h-1zM47 35h1v1h-1z"/><path fill="#ff8000" d="M0 1h1v1h-1zM0 4h1v1h-1zM0 19h1v1h-1zM0 22h1v1h-1zM0 26h1v1h-1zM0 27h1v1h-1zM0 30h1v1h-1zM0 32h1v1h-1zM0 34h1v1h-1zM0 37h1v1h-1zM0 46h1v1h-1zM1 2h1v1h-1zM1 3h1v1h-1zM1 9h1v1h-1zM1 14h1v1h-1zM1 20h1v1h-1zM1 23h1v1h-1zM1 25h1v1h-1zM1 31h1v1h-1zM1 33h1v1h-1zM1 36h1v1h-1zM1 43h1v1h-1zM1 45h1v1h-1zM2 4h1v1h-1zM2 7h1v1h-1zM2 16h1v1h-1zM2 18h1v1h-1zM2 19h1v1h-1zM2 22h1v1h-1zM2 26h1v1h-1zM2 27h1v1h-1zM2 30h1v1h-1zM2 32h1v1h-1zM2 34h1v1h-1zM2 37h1v1h-1zM2 38h1v1h-1zM2 46h1v1h-1zM3 2h1v1h-1zM3 3h1v1h-1zM3 6h1v1h-1zM3 8h1v1h-1zM3 10h1v1h-1zM3 14h1v1h-1zM3 17h1v1h-1zM3 20h1v1h-1zM3 23h1v1h-1zM3 25h1v1h-1zM3 33h1v1h-1zM3 36h1v1h-1zM3 43h1v1h-1zM3 45h1v1h-1zM4 4h1v1h-1zM4 7h1v1h-1zM4 16h1v1h-1zM4 18h1v1h-1zM4 19h1v1h-1zM4 22h1v1h-1zM4 26h1v1h-1zM4 27h1v1h-1zM4 30h1v1h-1zM4 32h1v1h-1zM4 34h1v1h-1zM4 37h1v1h-1zM4 38h1v1h-1zM4 46h1v1h-1zM4 47h1v1h-1zM5 2h1v1h-1zM5 6h1v1h-1zM5 10h1v1h-1zM5 14h1v1h-1zM5 17h1v1h-1zM5 21h1v1h-1zM5 23h1v1h-1zM5 25h1v1h-1zM5 33h1v1h-1zM5 36h1v1h-1zM5 45h1v1h-1zM6 4h1v1h-1zM6 7h1v1h-1zM6 16h1v1h-1zM6 18h1v1h-1zM6 22h1v1h-1zM6 26h1v1h-1zM6 27h1v1h-1zM6 30h1v1h-1zM6 32h1v1h-1zM6 34h1v1h-1zM6 37h1v1h-1zM6 38h1v1h-1zM6 46h1v1h-1zM7 2h1v1h-1zM7 6h1v1h-1zM7 10h1v1h-1zM7 11h1v1h-1zM7 14h1v1h-1zM7 17h1v1h-1zM7 19h1v1h-1zM7 21h1v1h-1zM7 23h1v1h-1zM7 25h1v1h-1zM7 33h1v1h-1zM7 36h1v1h-1zM7 45h1v1h-1zM8 4h1v1h-1zM8 7h1v1h-1zM8 16h1v1h-1zM8 18h1v1h-1zM8 22h1v1h-1zM8 26h1v1h-1zM8 27h1v1h-1zM8 32h1v1h-1zM8 34h1v1h-1zM8 37h1v1h-1zM8 42h1v1h-1zM8 46h1v1h-1zM9 2h1v1h-1zM9 6h1v1h-1zM9 10h1v1h-1zM9 11h1v1h-1zM9 14h1v1h-1zM9 17h1v1h-1zM9 19h1v1h-1zM9 21h1v1h-1zM9 23h1v1h-1zM9 25h1v1h-1zM9 33h1v1h-1zM9 36h1v1h-1zM9 45h1v1h-1zM10 7h1v1h-1zM10 16h1v1h-1zM10 18h1v1h-1zM10 20h1v1h-1zM10 22h1v1h-1zM10 26h1v1h-1zM10 27h1v1h-1zM10 32h1v1h-1zM10 34h1v1h-1zM10 37h1v1h-1zM10 42h1v1h-1zM10 46h1v1h-1zM11 2h1v1h-1zM11 6h1v1h-1zM11 10h1v1h-1zM11 11h1v1h-1zM11 14h1v1h-1zM11 17h1v1h-1zM11 19h1v1h-1zM11 21h1v1h-1zM11 23h1v1h-1zM11 25h1v1h-1zM11 28h1v1h-1zM11 33h1v1h-1zM11 36h1v1h-1zM11 45h1v1h-1zM12 8h1v1h-1zM12 16h1v1h-1zM12 18h1v1h-1zM12 22h1v1h-1zM12 26h1v1h-1zM12 27h1v1h-1zM12 30h1v1h-1zM12 32h1v1h-1zM12 34h1v1h-1zM12 37h1v1h-1zM12 42h1v1h-1zM12 44h1v1h-1zM12 46h1v1h-1zM13 2h1v1h-1zM13 3h1v1h-1zM13 10h1v1h-1zM13 11h1v1h-1zM13 14h1v1h-1zM13 17h1v1h-1zM13 19h1v1h-1zM13 21h1v1h-1zM13 23h1v1h-1zM13 25h1v1h-1zM13 28h1v1h-1zM13 33h1v1h-1zM13 36h1v1h-1zM13 45h1v1h-1zM14 8h1v1h-1zM14 16h1v1h-1zM14 18h1v1h-1zM14 22h1v1h-1zM14 26h1v1h-1zM14 27h1v1h-1zM14 30h1v1h-1zM14 32h1v1h-1zM14 34h1v1h-1zM14 37h1v1h-1zM14 41h1v1h-1zM14 43h1v1h-1zM14 44h1v1h-1zM14 46h1v1h-1zM15 0h1v1h-1zM15 2h1v1h-1zM15 3h1v1h-1zM15 10h1v1h-1zM15 11h1v1h-1zM15 14h1v1h-1zM15 17h1v1h-1zM15 19h1v1h-1zM15 21h1v1h-1zM15 23h1v1h-1zM15 25h1v1h-1zM15 28h1v1h-1zM15 33h1v1h-1zM15 36h1v1h-1zM15 38h1v1h-1zM15 45h1v1h-1zM16 8h1v1h-1zM16 16h1v1h-1zM16 18h1v1h-1zM16 20h1v1h-1zM16 22h1v1h-1zM16 26h1v1h-1zM16 27h1v1h-1zM16 30h1v1h-1zM16 32h1v1h-1zM16 34h1v1h-1zM16 37h1v1h-1zM16 40h1v1h-1zM16 42h1v1h-1zM16 44h1v1h-1zM16 46h1v1h-1zM17 0h1v1h-1zM17 2h1v1h-1zM17 3h1v1h-1zM17 10h1v1h-1zM17 11h1v1h-1zM17 14h1v1h-1zM17 17h1v1h-1zM17 19h1v1h-1zM17 21h1v1h-1zM17 23h1v1h-1zM17 25h1v1h-1zM17 28h1v1h-1zM17 38h1v1h-1zM17 45h1v1h-1zM18 4h1v1h-1zM18 8h1v1h-1zM18 13h1v1h-1zM18 16h1v1h-1zM18 20h1v1h-1zM18 26h1v1h-1zM18 27h1v1h-1zM18 30h1v1h-1zM18 34h1v1h-1zM18 37h1v1h-1zM18 40h1v1h-1zM18 42h1v1h-1zM18 44h1v1h-1zM18 46h1v1h-1zM19 2h1v1h-1zM19 3h1v1h-1zM19 10h1v1h-1zM19 11h1v1h-1zM19 14h1v1h-1zM19 17h1v1h-1zM19 19h1v1h-1zM19 21h1v1h-1zM19 23h1v1h-1zM19 25h1v1h-1zM19 28h1v1h-1zM19 38h1v1h-1zM19 45h1v1h-1zM19 47h1v1h-1zM20 4h1v1h-1zM20 8h1v1h-1zM20 13h1v1h-1zM20 16h1v1h-1zM20 20h1v1h-1zM20 26h1v1h-1zM20 27h1v1h-1zM20 30h1v1h-1zM20 34h1v1h-1zM20 37h1v1h-1zM20 40h1v1h-1zM20 42h1v1h-1zM20 44h1v1h-1zM20 46h1v1h-1zM21 2h1v1h-1zM21 3h1v1h-1zM21 10h1v1h-1zM21 11h1v1h-1zM21 14h1v1h-1zM21 17h1v1h-1zM21 19h1v1h-1zM21 21h1v1h-1zM21 24h1v1h-1zM21 28h1v1h-1zM21 38h1v1h-1zM21 43h1v1h-1zM21 45h1v1h-1zM21 47h1v1h-1zM22 4h1v1h-1zM22 8h1v1h-1zM22 13h1v1h-1zM22 20h1v1h-1zM22 22h1v1h-1zM22 26h1v1h-1zM22 27h1v1h-1zM22 30h1v1h-1zM22 34h1v1h-1zM22 37h1v1h-1zM22 40h1v1h-1zM22 42h1v1h-1zM22 46h1v1h-1zM23 2h1v1h-1zM23 3h1v1h-1zM23 10h1v1h-1zM23 11h1v1h-1zM23 14h1v1h-1zM23 16h1v1h-1zM23 17h1v1h-1zM23 19h1v1h-1zM23 24h1v1h-1zM23 28h1v1h-1zM23 38h1v1h-1zM23 43h1v1h-1zM23 45h1v1h-1zM23 47h1v1h-1zM24 8h1v1h-1zM24 13h1v1h-1zM24 20h1v1h-1zM24 22h1v1h-1zM24 26h1v1h-1zM24 27h1v1h-1zM24 30h1v1h-1zM24 34h1v1h-1zM24 40h1v1h-1zM24 42h1v1h-1zM24 46h1v1h-1zM25 2h1v1h-1zM25 3h1v1h-1zM25 10h1v1h-1zM25 11h1v1h-1zM25 14h1v1h-1zM25 15h1v1h-1zM25 16h1v1h-1zM25 17h1v1h-1zM25 19h1v1h-1zM25 28h1v1h-1zM25 38h1v1h-1zM25 43h1v1h-1zM25 45h1v1h-1zM25 47h1v1h-1zM26 0h1v1h-1zM26 8h1v1h-1zM26 13h1v1h-1zM26 20h1v1h-1zM26 22h1v1h-1zM26 26h1v1h-1zM26 27h1v1h-1zM26 30h1v1h-1zM26 34h1v1h-1zM26 40h1v1h-1zM26 42h1v1h-1zM26 44h1v1h-1zM26 46h1v1h-1zM27 2h1v1h-1zM27 3h1v1h-1zM27 10h1v1h-1zM27 11h1v1h-1zM27 14h1v1h-1zM27 15h1v1h-1zM27 16h1v1h-1zM27 17h1v1h-1zM27 19h1v1h-1zM27 28h1v1h-1zM27 38h1v1h-1zM27 43h1v1h-1zM27 45h1v1h-1zM27 47h1v1h-1zM28 0h1v1h-1zM28 8h1v1h-1zM28 13h1v1h-1zM28 18h1v1h-1zM28 20h1v1h-1zM28 22h1v1h-1zM28 26h1v1h-1zM28 27h1v1h-1zM28 34h1v1h-1zM28 40h1v1h-1zM28 42h1v1h-1zM28 44h1v1h-1zM29 2h1v1h-1zM29 3h1v1h-1zM29 10h1v1h-1zM29 14h1v1h-1zM29 15h1v1h-1zM29 16h1v1h-1zM29 17h1v1h-1zM29 19h1v1h-1zM29 28h1v1h-1zM29 38h1v1h-1zM29 43h1v1h-1zM29 45h1v1h-1zM29 47h1v1h-1zM30 0h1v1h-1zM30 8h1v1h-1zM30 11h1v1h-1zM30 13h1v1h-1zM30 20h1v1h-1zM30 22h1v1h-1zM30 26h1v1h-1zM30 27h1v1h-1zM30 34h1v1h-1zM30 39h1v1h-1zM30 40h1v1h-1zM30 42h1v1h-1zM30 44h1v1h-1zM31 2h1v1h-1zM31 3h1v1h-1zM31 10h1v1h-1zM31 14h1v1h-1zM31 16h1v1h-1zM31 17h1v1h-1zM31 19h1v1h-1zM31 38h1v1h-1zM31 43h1v1h-1zM31 46h1v1h-1zM32 0h1v1h-1zM32 8h1v1h-1zM32 11h1v1h-1zM32 13h1v1h-1zM32 20h1v1h-1zM32 22h1v1h-1zM32 26h1v1h-1zM32 27h1v1h-1zM32 34h1v1h-1zM32 39h1v1h-1zM32 40h1v1h-1zM32 42h1v1h-1zM32 44h1v1h-1zM32 47h1v1h-1zM33 1h1v1h-1zM33 2h1v1h-1zM33 3h1v1h-1zM33 10h1v1h-1zM33 14h1v1h-1zM33 16h1v1h-1zM33 17h1v1h-1zM33 19h1v1h-1zM33 36h1v1h-1zM33 37h1v1h-1zM33 43h1v1h-1zM33 46h1v1h-1zM34 0h1v1h-1zM34 5h1v1h-1zM34 7h1v1h-1zM34 8h1v1h-1zM34 11h1v1h-1zM34 13h1v1h-1zM34 22h1v1h-1zM34 26h1v1h-1zM34 27h1v1h-1zM34 34h1v1h-1zM34 40h1v1h-1zM34 42h1v1h-1zM34 44h1v1h-1zM34 47h1v1h-1zM35 1h1v1h-1zM35 4h1v1h-1zM35 6h1v1h-1zM35 10h1v1h-1zM35 14h1v1h-1zM35 16h1v1h-1zM35 17h1v1h-1zM35 19h1v1h-1zM35 36h1v1h-1zM35 37h1v1h-1zM35 43h1v1h-1zM35 46h1v1h-1zM36 0h1v1h-1zM36 5h1v1h-1zM36 7h1v1h-1zM36 8h1v1h-1zM36 11h1v1h-1zM36 13h1v1h-1zM36 22h1v1h-1zM36 26h1v1h-1zM36 27h1v1h-1zM36 29h1v1h-1zM36 34h1v1h-1zM36 39h1v1h-1zM36 42h1v1h-1zM36 44h1v1h-1zM36 47h1v1h-1zM37 2h1v1h-1zM37 4h1v1h-1zM37 6h1v1h-1zM37 9h1v1h-1zM37 10h1v1h-1zM37 14h1v1h-1zM37 16h1v1h-1zM37 17h1v1h-1zM37 19h1v1h-1zM37 36h1v1h-1zM37 38h1v1h-1zM37 43h1v1h-1zM37 46h1v1h-1zM38 5h1v1h-1zM38 7h1v1h-1zM38 11h1v1h-1zM38 13h1v1h-1zM38 15h1v1h-1zM38 22h1v1h-1zM38 26h1v1h-1zM38 28h1v1h-1zM38 29h1v1h-1zM38 34h1v1h-1zM38 37h1v1h-1zM38 39h1v1h-1zM38 42h1v1h-1zM38 44h1v1h-1zM38 47h1v1h-1zM39 2h1v1h-1zM39 4h1v1h-1zM39 6h1v1h-1zM39 9h1v1h-1zM39 10h1v1h-1zM39 14h1v1h-1zM39 16h1v1h-1zM39 17h1v1h-1zM39 19h1v1h-1zM39 36h1v1h-1zM39 38h1v1h-1zM39 43h1v1h-1zM39 46h1v1h-1zM40 5h1v1h-1zM40 11h1v1h-1zM40 13h1v1h-1zM40 15h1v1h-1zM40 22h1v1h-1zM40 26h1v1h-1zM40 28h1v1h-1zM40 29h1v1h-1zM40 33h1v1h-1zM40 34h1v1h-1zM40 37h1v1h-1zM40 39h1v1h-1zM40 42h1v1h-1zM40 44h1v1h-1zM40 47h1v1h-1zM41 2h1v1h-1zM41 4h1v1h-1zM41 6h1v1h-1zM41 9h1v1h-1zM41 10h1v1h-1zM41 14h1v1h-1zM41 16h1v1h-1zM41 17h1v1h-1zM41 19h1v1h-1zM41 30h1v1h-1zM41 32h1v1h-1zM41 36h1v1h-1zM41 38h1v1h-1zM41 41h1v1h-1zM41 43h1v1h-1zM41 46h1v1h-1zM42 5h1v1h-1zM42 12h1v1h-1zM42 13h1v1h-1zM42 15h1v1h-1zM42 22h1v1h-1zM42 26h1v1h-1zM42 28h1v1h-1zM42 29h1v1h-1zM42 31h1v1h-1zM42 33h1v1h-1zM42 34h1v1h-1zM42 37h1v1h-1zM42 39h1v1h-1zM42 42h1v1h-1zM42 44h1v1h-1zM42 47h1v1h-1zM43 2h1v1h-1zM43 4h1v1h-1zM43 9h1v1h-1zM43 14h1v1h-1zM43 16h1v1h-1zM43 17h1v1h-1zM43 19h1v1h-1zM43 30h1v1h-1zM43 32h1v1h-1zM43 36h1v1h-1zM43 38h1v1h-1zM43 40h1v1h-1zM43 43h1v1h-1zM43 46h1v1h-1zM44 5h1v1h-1zM44 12h1v1h-1zM44 15h1v1h-1zM44 22h1v1h-1zM44 26h1v1h-1zM44 28h1v1h-1zM44 29h1v1h-1zM44 31h1v1h-1zM44 34h1v1h-1zM44 37h1v1h-1zM44 39h1v1h-1zM44 44h1v1h-1zM44 47h1v1h-1zM45 1h1v1h-1zM45 2h1v1h-1zM45 4h1v1h-1zM45 9h1v1h-1zM45 14h1v1h-1zM45 16h1v1h-1zM45 17h1v1h-1zM45 27h1v1h-1zM45 30h1v1h-1zM45 32h1v1h-1zM45 36h1v1h-1zM45 38h1v1h-1zM45 43h1v1h-1zM45 46h1v1h-1zM46 5h1v1h-1zM46 12h1v1h-1zM46 15h1v1h-1zM46 22h1v1h-1zM46 26h1v1h-1zM46 28h1v1h-1zM46 29h1v1h-1zM46 31h1v1h-1zM46 34h1v1h-1zM46 37h1v1h-1zM46 39h1v1h-1zM46 44h1v1h-1zM46 47h1v1h-1zM47 1h1v1h-1zM47 2h1v1h-1zM47 4h1v1h-1zM47 9h1v1h-1zM47 14h1v1h-1zM47 16h1v1h-1zM47 17h1v1h-1zM47 27h1v1h-1zM47 33h1v1h-1zM47 36h1v1h-1zM47 38h1v1h-1zM47 43h1v1h-1zM47 46h1v1h-1z"/><path fill="#cc5500" d="M0 18h1v1h-1zM1 13h1v1h-1zM1 24h1v1h-1zM2 9h1v1h-1zM3 21h1v1h-1zM3 42h1v1h-1zM4 35h1v1h-1zM5 28h1v1h-1zM5 39h1v1h-1zM5 47h1v1h-1zM6 31h1v1h-1zM7 15h1v1h-1zM7 47h1v1h-1zM8 1h1v1h-1zM8 5h1v1h-1zM8 8h1v1h-1zM8 35h1v1h-1zM8 41h1v1h-1zM9 24h1v1h-1zM9 47h1v1h-1zM10 12h1v1h-1zM11 15h1v1h-1zM11 39h1v1h-1zM12 41h1v1h-1zM13 13h1v1h-1zM14 5h1v1h-1zM14 9h1v1h-1zM14 29h1v1h-1zM15 24h1v1h-1zM15 47h1v1h-1zM16 43h1v1h-1zM17 47h1v1h-1zM20 5h1v1h-1zM20 9h1v1h-1zM20 12h1v1h-1zM20 22h1v1h-1zM20 29h1v1h-1zM20 35h1v1h-1zM21 25h1v1h-1zM21 32h1v1h-1zM21 39h1v1h-1zM22 0h1v1h-1zM22 44h1v1h-1zM23 6h1v1h-1zM23 15h1v1h-1zM23 33h1v1h-1zM24 12h1v1h-1zM25 21h1v1h-1zM25 32h1v1h-1zM26 7h1v1h-1zM26 36h1v1h-1zM26 41h1v1h-1zM27 4h1v1h-1zM28 1h1v1h-1zM28 24h1v1h-1zM28 35h1v1h-1zM29 6h1v1h-1zM31 21h1v1h-1zM32 9h1v1h-1zM32 12h1v1h-1zM32 24h1v1h-1zM33 4h1v1h-1zM33 15h1v1h-1zM33 30h1v1h-1zM33 33h1v1h-1zM33 38h1v1h-1zM33 45h1v1h-1zM34 28h1v1h-1zM34 41h1v1h-1zM35 2h1v1h-1zM35 32h1v1h-1zM36 40h1v1h-1zM37 20h1v1h-1zM37 23h1v1h-1zM37 45h1v1h-1zM40 12h1v1h-1zM40 24h1v1h-1zM40 27h1v1h-1zM41 1h1v1h-1zM41 18h1v1h-1zM41 21h1v1h-1zM42 35h1v1h-1zM43 45h1v1h-1zM44 24h1v1h-1zM45 45h1v1h-1zM46 6h1v1h-1zM47 10h1v1h-1zM47 13h1v1h-1zM47 21h1v1h-1zM47 32h1v1h-1z"/></pattern></defs>
<g shape-rendering="crispEdges">
<rect x="102" y="62" width="30" height="53" fill="#e47d22"/>
<rect x="102" y="62" width="30" height="53" fill="url(#po)"/>
<rect x="102" y="129" width="48" height="53" fill="#a0c920"/>
<rect x="102" y="129" width="48" height="53" fill="url(#pg)"/>
<rect x="102" y="195" width="381" height="53" fill="#a0c920"/>
<rect x="102" y="195" width="381" height="53" fill="url(#pg)"/>
<rect x="102" y="261" width="62" height="53" fill="#a0c920"/>
<rect x="102" y="261" width="62" height="53" fill="url(#pg)"/>
</g>
<g font-family="Liberation Sans, sans-serif" font-size="12.5" fill="#000">
<rect x="132" y="84" width="8.0" height="10" fill="#fff" fill-opacity="0.85"/>
<text x="133.8" y="93" textLength="6.7" lengthAdjust="spacingAndGlyphs">4</text>
<rect x="150" y="150" width="23.0" height="10" fill="#fff" fill-opacity="0.85"/>
<text x="151.5" y="159" textLength="22" lengthAdjust="spacingAndGlyphs">6.25</text>
<rect x="483" y="217" width="14.0" height="10" fill="#fff" fill-opacity="0.85"/>
<text x="485.0" y="226" textLength="12.5" lengthAdjust="spacingAndGlyphs">49</text>
<rect x="164" y="283" width="22.5" height="10" fill="#fff" fill-opacity="0.85"/>
<text x="165.7" y="292" textLength="21.3" lengthAdjust="spacingAndGlyphs">8.07</text>
</g>
<g shape-rendering="crispEdges" stroke="#000" stroke-width="1" fill="none">
<path d="M95 22.5H101.5V354"/>
<path d="M95 354.5H560"/>
<path d="M95 89.5H101"/>
<path d="M95 155.5H101"/>
<path d="M95 222.5H101"/>
<path d="M95 288.5H101"/>
<path d="M101.5 354V359"/>
<path d="M257.5 354V359"/>
<path d="M413.5 354V359"/>
</g>
<g font-family="Liberation Sans, sans-serif" font-size="14" fill="#000" text-anchor="middle">
<text x="101.6" y="375" textLength="7.2" lengthAdjust="spacingAndGlyphs">0</text>
<text x="256.9" y="375" textLength="14.2" lengthAdjust="spacingAndGlyphs">20</text>
<text x="412.4" y="375" textLength="14.2" lengthAdjust="spacingAndGlyphs">40</text>
</g>
<g shape-rendering="crispEdges" fill="#000">
<path d="M50 82h1v1h-1zM57 82h1v1h-1zM48 83h1v1h-1zM50 83h1v1h-1zM52 83h1v1h-1zM54 83h7v1h-7zM48 84h1v1h-1zM50 84h1v1h-1zM52 84h1v1h-1zM57 84h1v1h-1zM50 85h1v1h-1zM54 85h6v1h-6zM48 86h5v1h-5zM57 86h1v1h-1zM50 87h1v1h-1zM53 87h8v1h-8zM49 88h3v1h-3zM54 88h1v1h-1zM59 88h1v1h-1zM49 89h2v1h-2zM52 89h1v1h-1zM54 89h6v1h-6zM48 90h1v1h-1zM50 90h1v1h-1zM54 90h1v1h-1zM59 90h1v1h-1zM48 91h1v1h-1zM50 91h1v1h-1zM54 91h6v1h-6zM50 92h1v1h-1zM54 92h1v1h-1zM59 92h1v1h-1zM50 93h1v1h-1zM54 93h1v1h-1zM59 93h1v1h-1zM50 94h1v1h-1zM54 94h1v1h-1zM58 94h2v1h-2zM67 82h1v1h-1zM71 82h1v1h-1zM63 83h13v1h-13zM67 84h1v1h-1zM71 84h1v1h-1zM64 85h11v1h-11zM66 86h1v1h-1zM69 86h1v1h-1zM72 86h1v1h-1zM63 87h13v1h-13zM66 88h1v1h-1zM69 88h1v1h-1zM72 88h1v1h-1zM66 89h1v1h-1zM69 89h1v1h-1zM72 89h1v1h-1zM64 90h11v1h-11zM69 91h1v1h-1zM63 92h13v1h-13zM69 93h1v1h-1zM69 94h1v1h-1zM78 82h7v1h-7zM78 83h1v1h-1zM81 83h1v1h-1zM84 83h7v1h-7zM78 84h1v1h-1zM81 84h1v1h-1zM84 84h1v1h-1zM88 84h1v1h-1zM78 85h1v1h-1zM81 85h1v1h-1zM84 85h1v1h-1zM88 85h1v1h-1zM78 86h7v1h-7zM88 86h1v1h-1zM78 87h1v1h-1zM81 87h1v1h-1zM84 87h1v1h-1zM88 87h1v1h-1zM78 88h1v1h-1zM81 88h1v1h-1zM84 88h1v1h-1zM88 88h1v1h-1zM78 89h1v1h-1zM81 89h1v1h-1zM84 89h1v1h-1zM88 89h1v1h-1zM78 90h7v1h-7zM88 90h1v1h-1zM88 91h1v1h-1zM88 92h1v1h-1zM88 93h1v1h-1zM86 94h3v1h-3z"/>
<path d="M52 148h7v1h-7zM49 149h1v1h-1zM52 149h1v1h-1zM58 149h1v1h-1zM49 150h1v1h-1zM52 150h7v1h-7zM49 151h1v1h-1zM52 151h1v1h-1zM58 151h1v1h-1zM49 152h1v1h-1zM52 152h7v1h-7zM49 153h1v1h-1zM52 153h1v1h-1zM58 153h1v1h-1zM49 154h1v1h-1zM52 154h7v1h-7zM49 155h1v1h-1zM49 156h12v1h-12zM54 157h1v1h-1zM50 158h2v1h-2zM54 158h1v1h-1zM57 158h2v1h-2zM48 159h2v1h-2zM54 159h1v1h-1zM59 159h2v1h-2zM54 160h1v1h-1zM64 148h11v1h-11zM69 149h1v1h-1zM65 150h1v1h-1zM69 150h1v1h-1zM73 150h1v1h-1zM66 151h1v1h-1zM69 151h1v1h-1zM73 151h1v1h-1zM66 152h1v1h-1zM69 152h1v1h-1zM72 152h1v1h-1zM69 153h1v1h-1zM63 154h13v1h-13zM69 155h1v1h-1zM69 156h1v1h-1zM69 157h1v1h-1zM69 158h1v1h-1zM69 159h1v1h-1zM69 160h1v1h-1zM80 148h1v1h-1zM85 148h1v1h-1zM80 149h1v1h-1zM85 149h1v1h-1zM80 150h1v1h-1zM84 150h7v1h-7zM78 151h5v1h-5zM84 151h1v1h-1zM90 151h1v1h-1zM80 152h1v1h-1zM83 152h1v1h-1zM90 152h1v1h-1zM80 153h1v1h-1zM85 153h1v1h-1zM90 153h1v1h-1zM80 154h1v1h-1zM86 154h1v1h-1zM90 154h1v1h-1zM80 155h1v1h-1zM90 155h1v1h-1zM80 156h3v1h-3zM88 156h1v1h-1zM90 156h1v1h-1zM78 157h3v1h-3zM86 157h2v1h-2zM90 157h1v1h-1zM84 158h2v1h-2zM89 158h1v1h-1zM89 159h1v1h-1zM87 160h2v1h-2z"/>
<path d="M52 214h7v1h-7zM49 215h1v1h-1zM52 215h1v1h-1zM58 215h1v1h-1zM49 216h1v1h-1zM52 216h7v1h-7zM49 217h1v1h-1zM52 217h1v1h-1zM58 217h1v1h-1zM49 218h1v1h-1zM52 218h7v1h-7zM49 219h1v1h-1zM52 219h1v1h-1zM58 219h1v1h-1zM49 220h1v1h-1zM52 220h7v1h-7zM49 221h1v1h-1zM49 222h12v1h-12zM54 223h1v1h-1zM50 224h2v1h-2zM54 224h1v1h-1zM57 224h2v1h-2zM48 225h2v1h-2zM54 225h1v1h-1zM59 225h2v1h-2zM54 226h1v1h-1zM65 214h9v1h-9zM65 215h1v1h-1zM73 215h1v1h-1zM65 216h9v1h-9zM65 217h1v1h-1zM73 217h1v1h-1zM63 218h13v1h-13zM64 219h1v1h-1zM67 219h1v1h-1zM64 220h4v1h-4zM69 220h6v1h-6zM64 221h1v1h-1zM67 221h1v1h-1zM70 221h1v1h-1zM74 221h1v1h-1zM64 222h4v1h-4zM70 222h1v1h-1zM74 222h1v1h-1zM64 223h1v1h-1zM67 223h1v1h-1zM71 223h1v1h-1zM73 223h1v1h-1zM64 224h4v1h-4zM72 224h1v1h-1zM63 225h2v1h-2zM67 225h1v1h-1zM71 225h1v1h-1zM73 225h1v1h-1zM67 226h1v1h-1zM69 226h2v1h-2zM74 226h2v1h-2zM84 214h1v1h-1zM84 215h1v1h-1zM84 216h1v1h-1zM78 217h13v1h-13zM84 218h1v1h-1zM83 219h1v1h-1zM85 219h1v1h-1zM83 220h1v1h-1zM85 220h1v1h-1zM82 221h1v1h-1zM86 221h1v1h-1zM82 222h1v1h-1zM86 222h1v1h-1zM81 223h1v1h-1zM87 223h1v1h-1zM80 224h1v1h-1zM88 224h1v1h-1zM79 225h1v1h-1zM89 225h1v1h-1zM78 226h1v1h-1zM90 226h1v1h-1z"/>
<path d="M39 281h1v1h-1zM38 282h1v1h-1zM40 282h1v1h-1zM37 283h1v1h-1zM41 283h1v1h-1zM36 284h1v1h-1zM42 284h1v1h-1zM35 285h1v1h-1zM43 285h1v1h-1zM33 286h2v1h-2zM36 286h7v1h-7zM44 286h2v1h-2zM39 287h1v1h-1zM39 288h1v1h-1zM35 289h9v1h-9zM39 290h1v1h-1zM39 291h1v1h-1zM39 292h1v1h-1zM33 293h13v1h-13zM48 281h13v1h-13zM48 282h1v1h-1zM60 282h1v1h-1zM48 283h1v1h-1zM60 283h1v1h-1zM48 284h1v1h-1zM51 284h7v1h-7zM60 284h1v1h-1zM48 285h1v1h-1zM54 285h1v1h-1zM60 285h1v1h-1zM48 286h1v1h-1zM54 286h1v1h-1zM60 286h1v1h-1zM48 287h1v1h-1zM51 287h7v1h-7zM60 287h1v1h-1zM48 288h1v1h-1zM54 288h1v1h-1zM56 288h1v1h-1zM60 288h1v1h-1zM48 289h1v1h-1zM54 289h1v1h-1zM57 289h1v1h-1zM60 289h1v1h-1zM48 290h1v1h-1zM50 290h9v1h-9zM60 290h1v1h-1zM48 291h1v1h-1zM60 291h1v1h-1zM48 292h1v1h-1zM60 292h1v1h-1zM48 293h13v1h-13zM64 281h11v1h-11zM69 282h1v1h-1zM65 283h1v1h-1zM69 283h1v1h-1zM73 283h1v1h-1zM66 284h1v1h-1zM69 284h1v1h-1zM73 284h1v1h-1zM66 285h1v1h-1zM69 285h1v1h-1zM72 285h1v1h-1zM69 286h1v1h-1zM63 287h13v1h-13zM69 288h1v1h-1zM69 289h1v1h-1zM69 290h1v1h-1zM69 291h1v1h-1zM69 292h1v1h-1zM69 293h1v1h-1zM80 281h1v1h-1zM85 281h1v1h-1zM80 282h1v1h-1zM85 282h1v1h-1zM80 283h1v1h-1zM84 283h7v1h-7zM78 284h5v1h-5zM84 284h1v1h-1zM90 284h1v1h-1zM80 285h1v1h-1zM83 285h1v1h-1zM90 285h1v1h-1zM80 286h1v1h-1zM85 286h1v1h-1zM90 286h1v1h-1zM80 287h1v1h-1zM86 287h1v1h-1zM90 287h1v1h-1zM80 288h1v1h-1zM90 288h1v1h-1zM80 289h3v1h-3zM88 289h1v1h-1zM90 289h1v1h-1zM78 290h3v1h-3zM86 290h2v1h-2zM90 290h1v1h-1zM84 291h2v1h-2zM89 291h1v1h-1zM89 292h1v1h-1zM87 293h2v1h-2z"/>
</g>
</svg>
</body></html>
